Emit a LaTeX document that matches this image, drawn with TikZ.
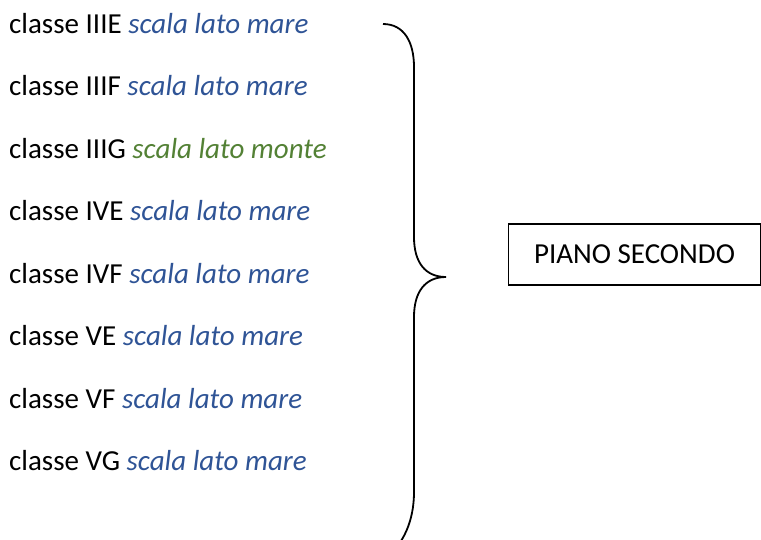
\documentclass[tikz,border=0pt]{standalone}
\usepackage{fontspec}
\setmainfont{Carlito}
\definecolor{seablue}{HTML}{2F5496}
\definecolor{hillgreen}{HTML}{538135}
\tikzset{
  item/.style={anchor=base west, inner sep=0pt, font=\fontsize{29}{34}\selectfont},
  floorbox/.style={draw, line width=1.3pt, minimum width=252pt, minimum height=61pt, font=\fontsize{29}{34}\selectfont},
  bracestyle/.style={line width=1.8pt}
}
\begin{document}
\begin{tikzpicture}[x=1pt,y=-1pt]
\useasboundingbox (0,0) rectangle (761,539);
\clip (0,0) rectangle (761,539);
\node[item] (r1) at (9,33) {classe IIIE {\color{seablue}\itshape scala lato mare}};
\node[item] (r2) at (9,95.5) {classe IIIF {\color{seablue}\itshape scala lato mare}};
\node[item] (r3) at (9,158) {classe IIIG {\color{hillgreen}\itshape scala lato monte}};
\node[item] (r4) at (9,220.5) {classe IVE {\color{seablue}\itshape scala lato mare}};
\node[item] (r5) at (9,283) {classe IVF {\color{seablue}\itshape scala lato mare}};
\node[item] (r6) at (9,345.5) {classe VE {\color{seablue}\itshape scala lato mare}};
\node[item] (r7) at (9,408) {classe VF {\color{seablue}\itshape scala lato mare}};
\node[item] (r8) at (9,470.5) {classe VG {\color{seablue}\itshape scala lato mare}};
\node[floorbox] (piano) at (634.5,254.5) {PIANO SECONDO};
\coordinate (btop) at (383,24);
\coordinate (btip) at (446,277);
\coordinate (bbot) at (383,560);
\draw[bracestyle] (btop) .. controls (404,24) and (414,42) .. (414,67)
  -- (414,237) .. controls (414,262) and (425,277) .. (btip)
  .. controls (425,277) and (414,292) .. (414,317)
  -- (414,492) .. controls (414,520) and (404,545) .. (bbot);
\end{tikzpicture}
\end{document}
